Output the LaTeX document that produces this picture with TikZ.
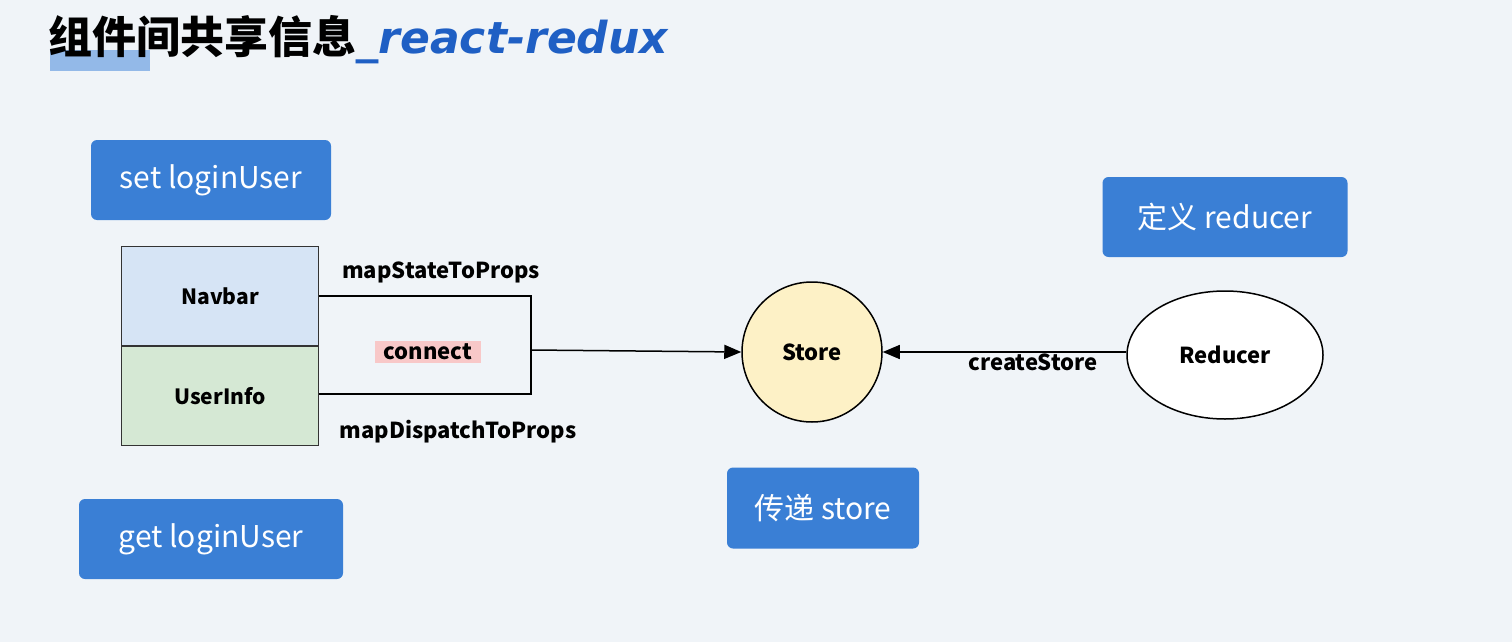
\documentclass[tikz,border=0pt]{standalone}
\usepackage{fontspec}
\setmainfont{Noto Sans CJK SC}
\newfontfamily\codefont{DejaVu Sans}
\usetikzlibrary{arrows.meta,shapes.geometric}
\definecolor{BG}{HTML}{F0F4F8}
\definecolor{BoxBlue}{HTML}{3A7FD5}
\definecolor{NavFill}{HTML}{D6E4F5}
\definecolor{InfoFill}{HTML}{D5E8D4}
\definecolor{StoreFill}{HTML}{FDF1C6}
\definecolor{Pink}{HTML}{F8C8C8}
\definecolor{TitleBlue}{HTML}{1F5FC4}
\tikzset{
  phase/.style = {rectangle, rounded corners=6pt, fill=BoxBlue, text=white,
    inner sep=0pt, font=\fontsize{30}{32}\selectfont},
  comp/.style = {rectangle, draw=black!80, line width=1pt, minimum width=197pt,
    minimum height=99pt, inner sep=0pt, font=\fontsize{21}{24}\selectfont\bfseries},
  lbl/.style  = {font=\fontsize{22}{24}\selectfont\bfseries, inner sep=1pt},
  tip/.style  = {-{Triangle[length=17pt,width=14pt]}},
}
\begin{document}
\begin{tikzpicture}[x=1pt,y=-1pt,line width=1.5pt]
  \fill[BG] (0,0) rectangle (1512,642);
  \useasboundingbox (0,0) rectangle (1512,642);
  % title
  \fill[BoxBlue!55] (50,50) rectangle (150,71);
  \node[anchor=west, inner sep=0pt, font=\fontsize{44}{48}\selectfont\bfseries] (title) at (48,40)
    {组件间共享信息\textcolor{TitleBlue}{\codefont\bfseries\itshape\_react-redux}};
  % phases
  \node[phase, minimum width=240pt, minimum height=80pt] (set) at (211,180) {set loginUser};
  \node[phase, minimum width=264pt, minimum height=80pt] (get) at (211,539) {get loginUser};
  \node[phase, minimum width=245pt, minimum height=80pt] (def) at (1225,217) {定义 reducer};
  \node[phase, minimum width=192pt, minimum height=81pt] (pass) at (823,508) {传递 store};
  % components
  \node[comp, fill=NavFill] (nav) at (220,296) {Navbar};
  \node[comp, fill=InfoFill, anchor=north] (info) at (nav.south) {UserInfo};
  \coordinate (brT) at (531,296);
  \coordinate (brB) at (531,394);
  \coordinate (brM) at (531,350);
  \draw (nav.east) -- (brT) -- (brB) -- (info.east |- brB);
  \node[lbl, fill=Pink, inner xsep=9pt, inner ysep=3pt] (conn) at (428,352) {connect};
  \node[lbl] (msp) at (441,272) {mapStateToProps};
  \node[lbl] (mdp) at (458,432) {mapDispatchToProps};
  % store and reducer
  \node[circle, draw=black, fill=StoreFill, minimum size=140pt, inner sep=0pt, lbl] (store) at (812,352) {Store};
  \node[ellipse, draw=black, fill=white, minimum width=196pt, minimum height=128pt, inner sep=0pt, lbl] (red) at (1225,355) {Reducer};
  \draw[tip] (brM) -- (store.west);
  \draw[tip] (red.west |- store.east) -- (store.east);
  \node[lbl] (cs) at (1033,362) {createStore};
\end{tikzpicture}
\end{document}
